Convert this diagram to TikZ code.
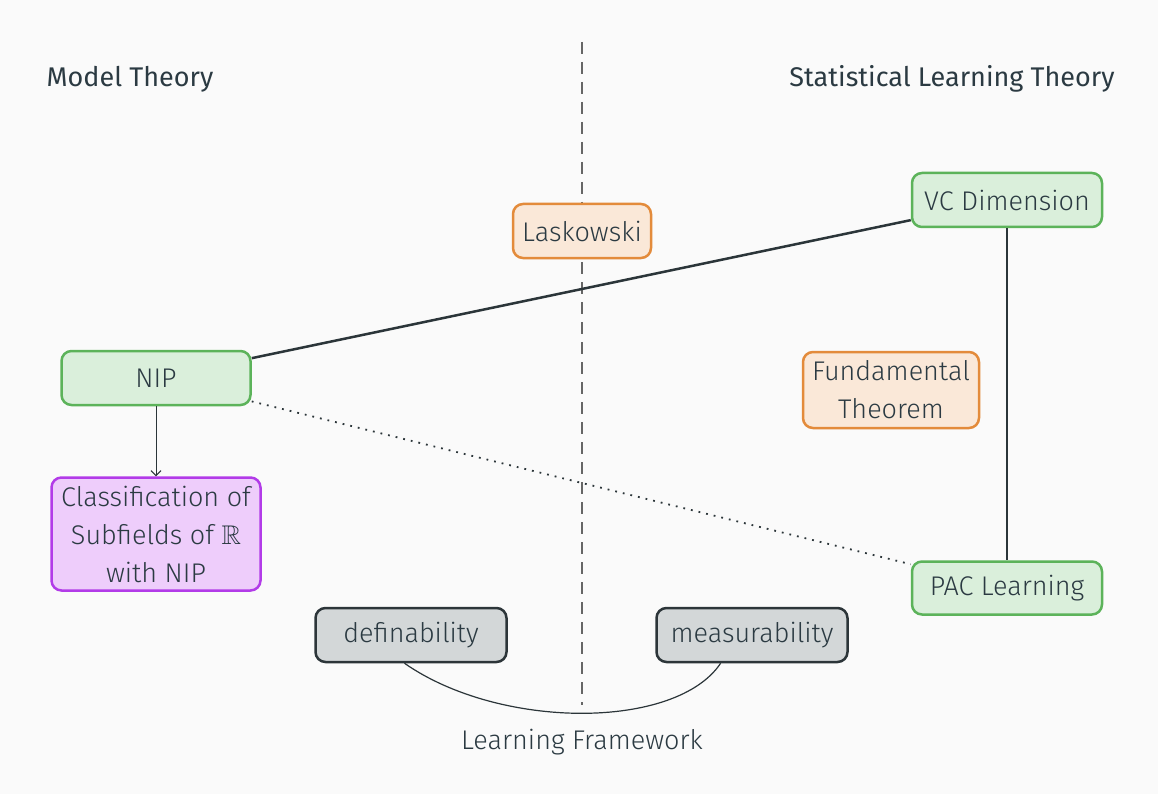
\documentclass[tikz,border=0pt]{standalone}
\usepackage{amssymb}
\usepackage{fontspec}
\setmainfont{Fira Sans Light}
\newfontfamily\headfont{Fira Sans}
\usetikzlibrary{arrows.meta}
\definecolor{bg}{HTML}{FAFAFA}
\definecolor{ink}{HTML}{2B3A42}
\definecolor{edge}{HTML}{2B3539}
\definecolor{gfill}{HTML}{DAEFDB}
\definecolor{gdraw}{HTML}{5CB35A}
\definecolor{ofill}{HTML}{FAE8D8}
\definecolor{odraw}{HTML}{E38B3B}
\definecolor{pfill}{HTML}{EECDFB}
\definecolor{pdraw}{HTML}{B23BE8}
\definecolor{kfill}{HTML}{D3D7D8}
\definecolor{kdraw}{HTML}{2C3539}
\begin{document}
\begin{tikzpicture}[x=1pt,y=-1pt,
  box/.style={rounded corners=10pt, line width=2.5pt, inner sep=0pt, align=center,
    text=ink, font=\fontsize{27}{38}\selectfont},
  greenbox/.style={box, fill=gfill, draw=gdraw},
  orangebox/.style={box, fill=ofill, draw=odraw},
  purplebox/.style={box, fill=pfill, draw=pdraw},
  graybox/.style={box, fill=kfill, draw=kdraw},
  heading/.style={text=ink, font=\headfont\fontsize{27}{30}\selectfont, inner sep=0pt},
  caption/.style={text=ink, font=\fontsize{27}{30}\selectfont, inner sep=0pt},
  strong/.style={draw=edge, line width=2.5pt},
]
\fill[bg] (0,0) rectangle (1158,794);
\useasboundingbox (0,0) rectangle (1158,794);

\coordinate (dtop) at (582,42);
\coordinate (dbot) at (582,705);
\draw[draw=black!60, line width=1.5pt, dash pattern=on 12pt off 8pt] (dtop) -- (dbot);

\node[heading] (mt) at (130,79) {Model Theory};
\node[heading] (slt) at (952,79) {Statistical Learning Theory};

\node[greenbox, minimum width=189pt, minimum height=54pt] (nip) at (156,378) {NIP};
\node[purplebox, minimum width=209pt, minimum height=113pt] (cls) at (156,534)
  {Classification of\\Subfields of $\mathbb{R}$\\with NIP};
\node[orangebox, minimum width=138pt, minimum height=54pt] (las) at (582,231) {Laskowski};
\node[greenbox, minimum width=190pt, minimum height=54pt] (vc) at (1007,200) {VC Dimension};
\node[orangebox, minimum width=176pt, minimum height=76pt] (fund) at (891,390) {Fundamental\\Theorem};
\node[greenbox, minimum width=190pt, minimum height=53pt] (pac) at (1007,588) {PAC Learning};
\node[graybox, minimum width=191pt, minimum height=54pt] (def) at (411,635) {definability};
\node[graybox, minimum width=191pt, minimum height=54pt] (meas) at (752,635) {measurability};
\node[caption] (lf) at (582,742) {Learning Framework};

\draw[strong] (nip) -- (vc);
\draw[strong] (vc) -- (pac);
\draw[draw=edge, line width=1.8pt, dash pattern=on 1.8pt off 6pt] (nip) -- (pac);
\draw[draw=edge, line width=1pt, -{Straight Barb[length=5pt,width=10pt]}] (nip) -- (cls);
\draw[draw=edge, line width=1.2pt] (def.257) .. controls (500,730) and (676,730) .. (meas.222);
\end{tikzpicture}
\end{document}
